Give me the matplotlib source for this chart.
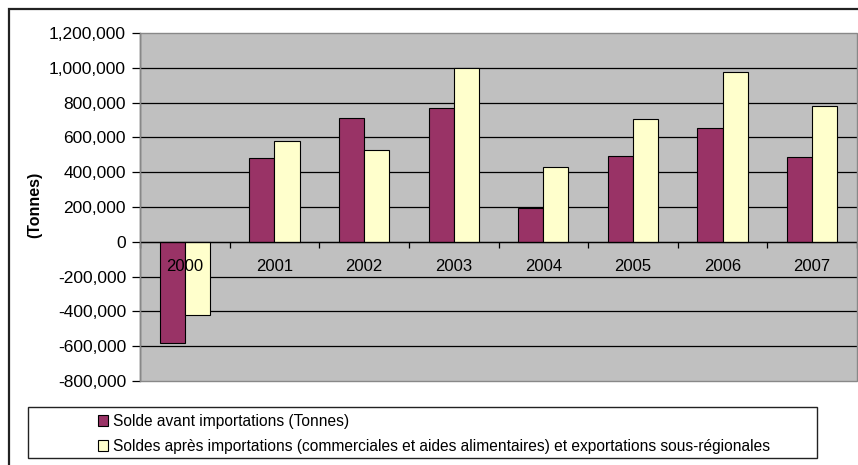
import matplotlib
matplotlib.use("Agg")
import matplotlib.pyplot as plt
from matplotlib.patches import Rectangle
from matplotlib.ticker import FuncFormatter, FixedLocator
import numpy as np

plt.rcParams['font.family'] = ['Liberation Sans', 'DejaVu Sans']

years = ["2000", "2001", "2002", "2003", "2004", "2005", "2006", "2007"]
solde_avant = [-580000, 483000, 710000, 769000, 194000, 494000, 654000, 488000]
solde_apres = [-423000, 579000, 525000, 998000, 429000, 708000, 973000, 779000]
series_labels = ["Solde avant importations (Tonnes)",
                 "Soldes après importations (commerciales et aides alimentaires) et exportations sous-régionales"]
y_ticks = [-800000, -600000, -400000, -200000, 0, 200000, 400000, 600000, 800000, 1000000, 1200000]
y_label = "(Tonnes)"

W, H = 858, 465
fig = plt.figure(figsize=(W / 100, H / 100), dpi=100)

# outer frame
fig.patches.append(Rectangle((9 / W, -0.02), 1.1, 1 - 9 / H + 0.02, transform=fig.transFigure,
                             fill=False, edgecolor='#222222', linewidth=1.6, zorder=0))

ax = fig.add_axes([140 / W, 1 - 381 / H, 717 / W, 348 / H])
ax.set_facecolor('#C0C0C0')

x = np.arange(len(years))
bw = 0.28
ax.bar(x - bw / 2, solde_avant, bw, color='#993366', edgecolor='black', linewidth=0.8,
       label=series_labels[0], zorder=2)
ax.bar(x + bw / 2, solde_apres, bw, color='#FFFFCC', edgecolor='black', linewidth=0.8,
       label=series_labels[1], zorder=2)

ax.set_xlim(-0.5, len(years) - 0.5)
ax.set_ylim(y_ticks[0], y_ticks[-1])

for v in y_ticks[1:-1]:
    ax.axhline(v, color='black', linewidth=0.9, zorder=1)

ax.yaxis.set_major_locator(FixedLocator(y_ticks))
ax.yaxis.set_major_formatter(FuncFormatter(lambda v, p: f"{int(v):,}"))
ax.tick_params(axis='y', direction='out', length=6, width=0.9, pad=4, labelsize=12.5, colors='black')

# x axis at zero
ax.spines['bottom'].set_position(('data', 0))
ax.spines['bottom'].set_color('black')
ax.spines['bottom'].set_linewidth(0.9)
ax.spines['bottom'].set_zorder(3)
ax.set_xticks(np.arange(len(years) + 1) - 0.5)
ax.set_xticklabels([])
ax.tick_params(axis='x', direction='out', length=4, width=0.9, colors='black')
for i, yr in enumerate(years):
    ax.annotate(yr, xy=(i, 0), xytext=(0, -17.5), textcoords='offset points',
                ha='center', va='center', fontsize=12, zorder=5)

for s in ['top', 'right']:
    ax.spines[s].set_visible(False)
ax.spines['left'].set_color('#555555')
ax.spines['left'].set_linewidth(1.0)
# plot area border
ax.add_patch(Rectangle((0, 0), 1, 1, transform=ax.transAxes, fill=False,
                       edgecolor='#888888', linewidth=1.0, zorder=4, clip_on=False))

fig.text(35 / W, 1 - 205 / H, y_label, rotation=90, ha='center', va='center',
         fontsize=11.5, fontweight='bold')

# legend box
fig.patches.append(Rectangle((28 / W, 1 - 458 / H), (817 - 28) / W, (458 - 407) / H,
                             transform=fig.transFigure, fill=False, edgecolor='#222222',
                             linewidth=1.0, zorder=1))
h, l = ax.get_legend_handles_labels()
fig.legend(h, l, loc='center left', bbox_to_anchor=(90 / W, 1 - 434 / H), frameon=False,
           fontsize=11.2, handlelength=0.65, handleheight=0.65, handletextpad=0.35,
           labelspacing=0.65, borderpad=0)

fig.savefig('out.png', dpi=100)
